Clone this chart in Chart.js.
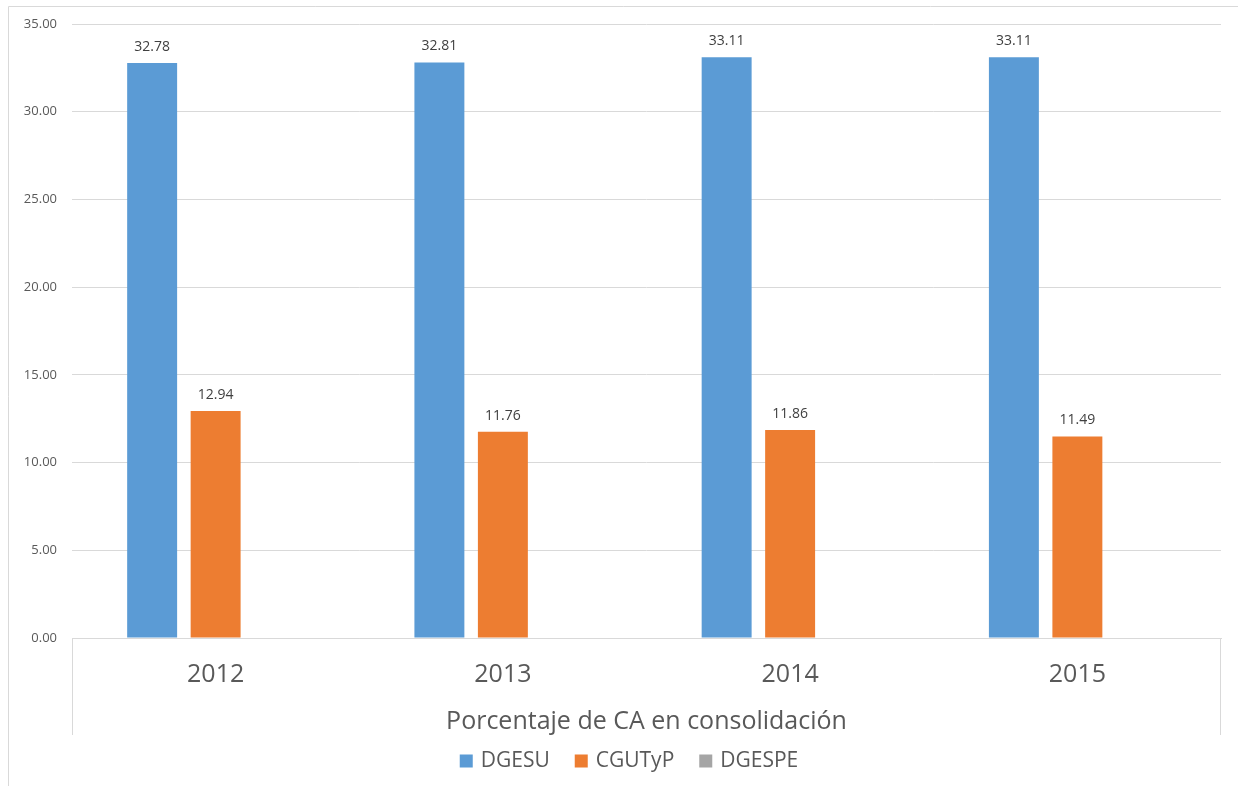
<!DOCTYPE html>
<html>
<head>
<meta charset="UTF-8">
<title>Porcentaje de CA en consolidación</title>
<style>
  html, body { margin: 0; padding: 0; background: #ffffff; }
  #wrap { position: relative; width: 1238px; height: 786px; }
  canvas { display: block; }
</style>
</head>
<body>
<div id="wrap"><canvas id="chart" width="1238" height="786"></canvas></div>
<script src="https://cdn.jsdelivr.net/npm/chart.js@4/dist/chart.umd.min.js"></script>
<script>
// data
const years = ['2012', '2013', '2014', '2015'];
const dgesu = [32.78, 32.81, 33.11, 33.11];
const cgutyp = [12.94, 11.76, 11.86, 11.49];
const dgespe = [null, null, null, null];
const groupLabel = 'Porcentaje de CA en consolidación';

const FONT = '"Open Sans", "Noto Sans", sans-serif';
const TEXT = '#595959';
const GRID = '#d9d9d9';

// value labels above the bars
const valueLabels = {
    id: 'valueLabels',
    afterDatasetsDraw(chart) {
        const ctx = chart.ctx;
        ctx.save();
        ctx.font = '14px ' + FONT;
        ctx.fillStyle = '#404040';
        ctx.textAlign = 'center';
        ctx.textBaseline = 'middle';
        chart.data.datasets.forEach((ds, i) => {
            const meta = chart.getDatasetMeta(i);
            meta.data.forEach((bar, j) => {
                const v = ds.data[j];
                if (v === null || v === undefined) return;
                ctx.fillText(v.toFixed(2), bar.x, bar.y - 16);
            });
        });
        ctx.restore();
    }
};

// outer frame, category group dividers and the legend row (spaced like Excel)
const frame = {
    id: 'frame',
    afterDraw(chart) {
        const ctx = chart.ctx;
        const x = chart.scales.x;
        ctx.save();
        ctx.strokeStyle = GRID;
        ctx.lineWidth = 1;
        ctx.beginPath();
        ctx.moveTo(8.5, 786);
        ctx.lineTo(8.5, 6.5);
        ctx.lineTo(1238, 6.5);
        ctx.moveTo(x.left + 0.5, x.top);
        ctx.lineTo(x.left + 0.5, x.top + 97);
        ctx.moveTo(x.right - 0.5, x.top);
        ctx.lineTo(x.right - 0.5, x.top + 97);
        ctx.stroke();

        // legend
        ctx.font = '21px ' + FONT;
        ctx.textBaseline = 'middle';
        ctx.textAlign = 'left';
        const box = 13, gap = 8, spacing = 25;
        const items = chart.data.datasets.map(ds => ({
            label: ds.label, color: ds.backgroundColor, w: ctx.measureText(ds.label).width
        }));
        const total = items.reduce((s, it) => s + box + gap + it.w, 0) + spacing * (items.length - 1);
        let cx = chart.width / 2 + 10 - total / 2;
        const cy = 761;
        items.forEach(it => {
            ctx.fillStyle = it.color;
            ctx.fillRect(cx, cy - box / 2, box, box);
            ctx.fillStyle = TEXT;
            ctx.fillText(it.label, cx + box + gap, cy);
            cx += box + gap + it.w + spacing;
        });
        ctx.restore();
    }
};

new Chart(document.getElementById('chart'), {
    type: 'bar',
    data: {
        labels: years,
        datasets: [
            { label: 'DGESU', data: dgesu, backgroundColor: '#5b9bd5' },
            { label: 'CGUTyP', data: cgutyp, backgroundColor: '#ed7d31' },
            { label: 'DGESPE', data: dgespe, backgroundColor: '#a5a5a5' }
        ]
    },
    options: {
        responsive: false,
        animation: false,
        datasets: {
            bar: { categoryPercentage: 0.663, barPercentage: 0.787 }
        },
        layout: { padding: { top: 24, right: 17, bottom: 47, left: 0 } },
        plugins: {
            legend: { display: false },
            tooltip: { enabled: false },
            title: { display: false }
        },
        scales: {
            y: {
                min: 0,
                max: 35,
                ticks: {
                    stepSize: 5,
                    padding: 15,
                    color: TEXT,
                    font: { family: FONT, size: 13 },
                    callback: v => Number(v).toFixed(2)
                },
                grid: { color: GRID, drawTicks: false },
                border: { display: false },
                afterFit(scale) { scale.width = 72; }
            },
            x: {
                ticks: {
                    padding: 22,
                    color: TEXT,
                    font: { family: FONT, size: 25 },
                    maxRotation: 0
                },
                grid: { display: false, drawTicks: false },
                border: { display: true, color: GRID },
                title: {
                    display: true,
                    text: groupLabel,
                    color: TEXT,
                    font: { family: FONT, size: 25 },
                    padding: { top: 0, bottom: 2 }
                },
                afterFit(scale) { scale.height = 101; }
            }
        }
    },
    plugins: [valueLabels, frame]
});
</script>
</body>
</html>
